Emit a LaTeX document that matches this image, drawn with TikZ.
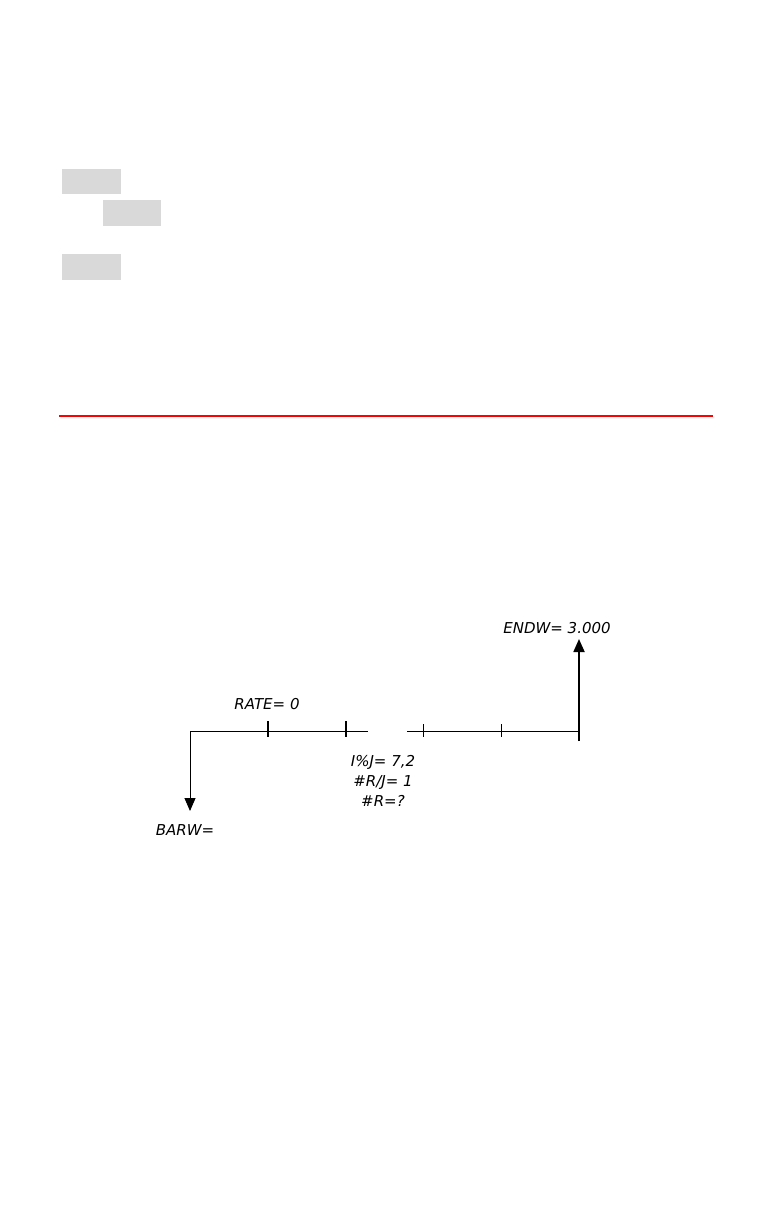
\documentclass[tikz,border=0pt]{standalone}
\usepackage{fontspec}
\setmainfont{DejaVu Sans}
\definecolor{KeyGray}{HTML}{D9D9D9}
\definecolor{RuleRed}{HTML}{FF0000}
\usetikzlibrary{arrows.meta, positioning}

\begin{document}
\begin{tikzpicture}[x=1pt, y=-1pt, >={Triangle[width=11pt,length=13pt]},
  lbl/.style={font=\fontsize{15}{20}\selectfont\itshape, inner sep=0pt}]
  \useasboundingbox (0,0) rectangle (783,1209);
  % key boxes
  \fill[KeyGray] (62,169) rectangle (121,194);
  \fill[KeyGray] (103,200) rectangle (161,226);
  \fill[KeyGray] (62,254) rectangle (121,280);
  \draw[RuleRed, line width=2.6pt] (59,416) -- (713,416);
  % cash-flow line
  \coordinate (t0) at (190,731);
  \coordinate (tN) at (579,731);
  \draw[line width=0.9pt] (t0) -- (368,731);
  \draw[line width=0.9pt] (407,731) -- (tN);
  \foreach \x in {268,346}
    \draw[line width=1.6pt] (\x,721) -- (\x,737);
  \foreach \x in {423,501}
    \draw[line width=0.8pt] (\x,724) -- (\x,737);
  \node[lbl] (rate) at (267,704) {RATE= 0};
  \node[lbl, align=center] (int) at (383,781) {I\%J= 7,2\\\#R/J= 1\\\#R=?};
  \node[lbl] (barw) at (185,830) {BARW=};
  \node[lbl] (endw) at (557,628) {ENDW= 3.000};
  \draw[->, line width=0.9pt] (t0) -- (190,811);
  \draw[->, line width=1.8pt] (579,741) -- (579,639);
\end{tikzpicture}
\end{document}
